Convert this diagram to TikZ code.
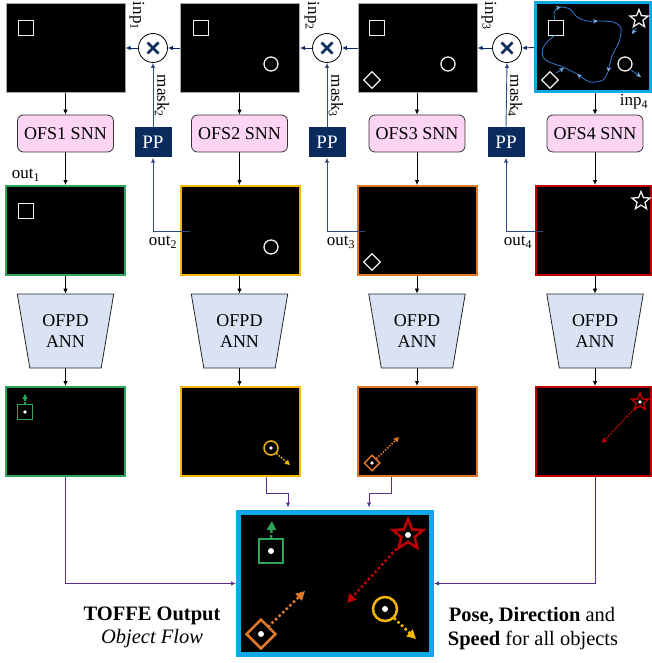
\documentclass[tikz,border=0pt]{standalone}
\usepackage{fontspec}
\setmainfont{Liberation Serif}
\usetikzlibrary{arrows.meta,shapes.geometric,calc}
\definecolor{navy}{HTML}{0B2A5E}
\definecolor{fbnavy}{HTML}{34497D}
\definecolor{pinkf}{HTML}{FCD5F5}
\definecolor{ofpdf}{HTML}{DAE3F3}
\definecolor{cgreen}{HTML}{2EA55A}
\definecolor{cyellow}{HTML}{F2B705}
\definecolor{corange}{HTML}{E0782A}
\definecolor{cred}{HTML}{C00000}
\definecolor{ccyan}{HTML}{10A8E6}
\definecolor{cpurple}{HTML}{5A2E8A}
\definecolor{flowblue}{HTML}{2F6FBF}
\definecolor{flowtip}{HTML}{7FAEE6}
\tikzset{
  frm/.style={fill=black, minimum width=119pt, minimum height=89pt, inner sep=0pt},
  frm4/.style={fill=black, minimum width=115pt, minimum height=89pt, inner sep=0pt},
  ofs/.style={draw=black!80, fill=pinkf, rounded corners=6pt, minimum width=96pt, minimum height=37pt, inner sep=0pt, line width=0.8pt, font=\fontsize{18}{20}\selectfont},
  ofpd/.style={draw=black!85, fill=ofpdf, trapezium, trapezium stretches=true, trapezium left angle=76, trapezium right angle=76, shape border rotate=180, minimum width=97pt, minimum height=74pt, inner sep=0pt, line width=0.8pt, align=center, font=\fontsize{18}{20.5}\selectfont},
  ppbox/.style={fill=navy, text=white, minimum width=37pt, minimum height=30pt, inner sep=0pt, font=\fontsize{19}{20}\selectfont},
  mult/.style={circle, draw=black, fill=white, line width=0.8pt, minimum size=29pt, inner sep=0pt},
  blk/.style={black, line width=0.8pt, -{Latex[length=5pt,width=4.5pt]}},
  navarr/.style={navy, line width=0.9pt, -{Latex[length=5pt,width=4.5pt]}},
  maskln/.style={fbnavy, line width=0.9pt, -{Latex[length=5pt,width=4.5pt]}},
  fb/.style={fbnavy, line width=0.9pt, -{Latex[length=5pt,width=4.5pt]}},
  pc/.style={cpurple, line width=1pt, -{Latex[length=5pt,width=4.5pt]}},
  lbl/.style={inner sep=0pt, font=\fontsize{17}{19}\selectfont},
  wsh/.style={draw=white!88!gray, line width=1.3pt, inner sep=0pt},
  flow/.style={flowblue, line width=0.9pt},
  flowa/.style={flowblue, line width=0.9pt, -{Stealth[length=5pt,width=4.5pt,color=flowtip]}},
  sdot/.style={dash pattern=on 1.5pt off 1.5pt, line width=1.5pt, -{Triangle[length=5pt,width=5pt]}},
  bdot/.style={dash pattern=on 2.5pt off 2.5pt, line width=2.5pt, -{Triangle[length=9pt,width=9pt]}},
  sq/.style={rectangle, inner sep=0pt},
  dm/.style={diamond, inner sep=0pt},
  st/.style={star, star points=5, star point ratio=2.3, inner sep=0pt},
}
\begin{document}
\begin{tikzpicture}[x=1pt,y=-1pt,font=\fontsize{16.5}{19}\selectfont]
\useasboundingbox (0,0) rectangle (652,663);

% ---------- top row ----------
\node[frm, draw=gray!70, line width=1pt] (t1) at (65.5,48) {};
\node[frm, draw=gray!70, line width=1pt] (t2) at (240,48) {};
\node[frm, draw=gray!70, line width=1pt] (t3) at (417.5,48) {};
\node[frm4, draw=ccyan, line width=3pt] (t4) at (593,47.5) {};

% objects in top frames
\node[sq, wsh, minimum size=15pt] at (26,28) {};
\node[sq, wsh, minimum size=15pt] at (201,28) {};
\node[circle, wsh, minimum size=14pt] at (271,64) {};
\node[sq, wsh, minimum size=15pt] at (377,28) {};
\node[circle, wsh, minimum size=14pt] at (448,64) {};
\node[dm, wsh, minimum size=17pt] at (372,80) {};
\node[sq, wsh, minimum size=15pt] (sq4) at (556,28) {};
\node[circle, wsh, minimum size=14pt] at (625,64) {};
\node[dm, wsh, minimum size=17pt] at (550,80) {};
\node[st, wsh, minimum size=19pt] at (639,19) {};

% flow curves in frame 4
\draw[flowa] plot[smooth] coordinates {(555,20.5) (554,13) (557,8.5) (561,7)};
\draw[flowa] plot[smooth] coordinates {(561,7) (570,9) (577,17) (587,21) (598,21)};
\draw[flowa] plot[smooth] coordinates {(598,21) (613,22) (621,28) (619,42) (612,56) (608,72)};
\draw[flowa] plot[smooth] coordinates {(608,72) (603,80) (590,82) (577,74)};
\draw[flow] plot[smooth] coordinates {(577,74) (563,67) (549,62) (543,57) (543,48) (549,40) (555,35.5)};
\draw[flowa] (636,28) -- (632,34);
\draw[flowa] (556,73) -- (564,68);
\draw[flowa] (631,70) -- (641,77);

% multipliers
\node[mult] (m1) at (153,48) {};
\node[mult] (m2) at (327,48) {};
\node[mult] (m3) at (507,48) {};
\foreach \m in {m1,m2,m3}{
  \draw[navy, line width=2.8pt] ($(\m)+(-5.5,-5.5)$) -- ($(\m)+(5.5,5.5)$);
  \draw[navy, line width=2.8pt] ($(\m)+(-5.5,5.5)$) -- ($(\m)+(5.5,-5.5)$);
}
\draw[navarr] (t2.west) -- (m1.east);
\draw[navarr] (m1.west) -- (t1.east);
\draw[navarr] (t3.west) -- (m2.east);
\draw[navarr] (m2.west) -- (t2.east);
\draw[navarr] (t4.west) -- (m3.east);
\draw[navarr] (m3.west) -- (t3.east);

% input labels
\node[lbl, rotate=-90] (inp1) at (137,16) {inp\textsubscript{1}};
\node[lbl, rotate=-90] (inp2) at (312,16) {inp\textsubscript{2}};
\node[lbl, rotate=-90] (inp3) at (489,16) {inp\textsubscript{3}};
\node[lbl] (inp4) at (634,102) {inp\textsubscript{4}};

% ---------- PP and masks ----------
\node[ppbox] (p2) at (153,142.5) {PP};
\node[ppbox] (p3) at (327,142.5) {PP};
\node[ppbox] (p4) at (506,142.5) {PP};
\draw[maskln] (p2.north) -- (m1.south);
\draw[maskln] (p3.north) -- (m2.south);
\draw[maskln] (p4.north) -- (m3.south);
\node[lbl, rotate=-90] (mk2) at (162,96) {mask\textsubscript{2}};
\node[lbl, rotate=-90] (mk3) at (336,96) {mask\textsubscript{3}};
\node[lbl, rotate=-90] (mk4) at (515,96) {mask\textsubscript{4}};

% ---------- OFS SNN ----------
\node[ofs] (o1) at (65.5,133.5) {OFS1 SNN};
\node[ofs] (o2) at (239.5,133.5) {OFS2 SNN};
\node[ofs] (o3) at (417,133.5) {OFS3 SNN};
\node[ofs] (o4) at (595,133.5) {OFS4 SNN};
\draw[blk] (t1.south -| o1.north) -- (o1.north);
\draw[blk] (t2.south -| o2.north) -- (o2.north);
\draw[blk] (t3.south -| o3.north) -- (o3.north);
\draw[blk] (t4.south -| o4.north) -- (o4.north);

% ---------- middle row ----------
\node[frm, draw=cgreen, line width=2pt] (c1) at (65.5,230.5) {};
\node[frm, draw=cyellow, line width=2pt] (c2) at (240,230.5) {};
\node[frm, draw=corange, line width=2pt] (c3) at (417.5,230.5) {};
\node[frm4, draw=cred, line width=2pt] (c4) at (593,230.5) {};
\draw[blk] (o1.south) -- (o1.south |- c1.north);
\draw[blk] (o2.south) -- (o2.south |- c2.north);
\draw[blk] (o3.south) -- (o3.south |- c3.north);
\draw[blk] (o4.south) -- (o4.south |- c4.north);

\node[sq, wsh, minimum size=15pt] at (26,211) {};
\node[circle, wsh, minimum size=14pt] at (271,247) {};
\node[dm, wsh, minimum size=17pt] at (372,262) {};
\node[st, wsh, minimum size=19pt] at (641,201) {};

\node[lbl] (out1) at (26,175) {out\textsubscript{1}};
\node[lbl] (out2) at (163,242) {out\textsubscript{2}};
\node[lbl] (out3) at (341,242) {out\textsubscript{3}};
\node[lbl] (out4) at (518,242) {out\textsubscript{4}};

\coordinate (f2) at (190,231);
\coordinate (f3) at (365,231);
\coordinate (f4) at (543,231);
\draw[fb] (f2) -| (p2.south);
\draw[fb] (f3) -| (p3.south);
\draw[fb] (f4) -| (p4.south);

% ---------- OFPD ANN ----------
\node[ofpd] (d1) at (65.5,331) {OFPD\\ANN};
\node[ofpd] (d2) at (239.5,331) {OFPD\\ANN};
\node[ofpd] (d3) at (417,331) {OFPD\\ANN};
\node[ofpd] (d4) at (595,331) {OFPD\\ANN};
\draw[blk] (c1.south -| d1.north) -- (d1.north);
\draw[blk] (c2.south -| d2.north) -- (d2.north);
\draw[blk] (c3.south -| d3.north) -- (d3.north);
\draw[blk] (c4.south -| d4.north) -- (d4.north);

% ---------- bottom row ----------
\node[frm, draw=cgreen, line width=2pt] (b1) at (65.5,431.5) {};
\node[frm, draw=cyellow, line width=2pt] (b2) at (240,431.5) {};
\node[frm, draw=corange, line width=2pt] (b3) at (417.5,431.5) {};
\node[frm4, draw=cred, line width=2pt] (b4) at (593,431.5) {};
\draw[blk] (d1.south) -- (d1.south |- b1.north);
\draw[blk] (d2.south) -- (d2.south |- b2.north);
\draw[blk] (d3.south) -- (d3.south |- b3.north);
\draw[blk] (d4.south) -- (d4.south |- b4.north);

\node[sq, draw=cgreen, line width=1.5pt, minimum size=15pt] (g1) at (25,412) {};
\fill[white] (g1) circle (1.8);
\draw[sdot, cgreen] (g1.north) -- (25,394);
\node[circle, draw=cyellow, line width=1.5pt, minimum size=14pt, inner sep=0pt] (y1) at (271,448) {};
\fill[white] (y1) circle (1.8);
\draw[sdot, cyellow] (y1.south east) -- (290,465);
\node[dm, draw=corange, line width=1.5pt, minimum size=16pt] (r1) at (372,463) {};
\fill[white] (r1) circle (1.8);
\draw[sdot, corange] (r1.north east) -- (399,437);
\node[st, draw=cred, line width=1.5pt, minimum size=18pt] (s1) at (640,402) {};
\fill[white] (s1) circle (1.8);
\draw[sdot, cred] (636,407) -- (602,443);

% ---------- final output ----------
\node[fill=black, draw=ccyan, line width=5pt, minimum width=193pt, minimum height=142pt, inner sep=0pt] (fin) at (335,583.5) {};
\draw[pc] (b1.south) |- (fin.west);
\draw[pc] (b4.south -| o4.south) |- (fin.east);
\draw[pc] ($(b2.south west)+(87,0)$) -- ++(0,16) -| ($(fin.north west)+(52,-2.5)$);
\draw[pc] ($(b3.south west)+(34,0)$) -- ++(0,16) -| ($(fin.north west)+(133,-2.5)$);

\node[sq, draw=cgreen, line width=2.5pt, minimum size=24pt] (g2) at (271,551) {};
\fill[white] (g2) circle (3);
\draw[bdot, cgreen] (g2.north) -- (272,521);
\node[dm, draw=corange, line width=2.5pt, minimum size=30pt] (r2) at (261,634) {};
\fill[white] (r2) circle (3);
\draw[bdot, corange] (268,627) -- (305,591);
\node[st, draw=cred, line width=2.5pt, minimum size=32pt] (s2) at (408,535) {};
\fill[white] (s2) circle (3);
\draw[bdot, cred] (400,545) -- (347,603);
\node[circle, draw=cyellow, line width=2.5pt, minimum size=24pt, inner sep=0pt] (y2) at (385,609) {};
\fill[white] (y2) circle (3);
\draw[bdot, cyellow] (394,618) -- (416,639);

\node[font=\fontsize{20.5}{24}\selectfont\bfseries] (tt) at (152,616) {TOFFE Output};
\node[font=\fontsize{20.5}{24}\selectfont\itshape] (tf) at (152,639) {Object Flow};
\node[font=\fontsize{20.5}{24}\selectfont] (pd) at (532,616) {\textbf{Pose, Direction} and};
\node[font=\fontsize{20.5}{24}\selectfont] (sp) at (533,640) {\textbf{Speed} for all objects};
\end{tikzpicture}
\end{document}
